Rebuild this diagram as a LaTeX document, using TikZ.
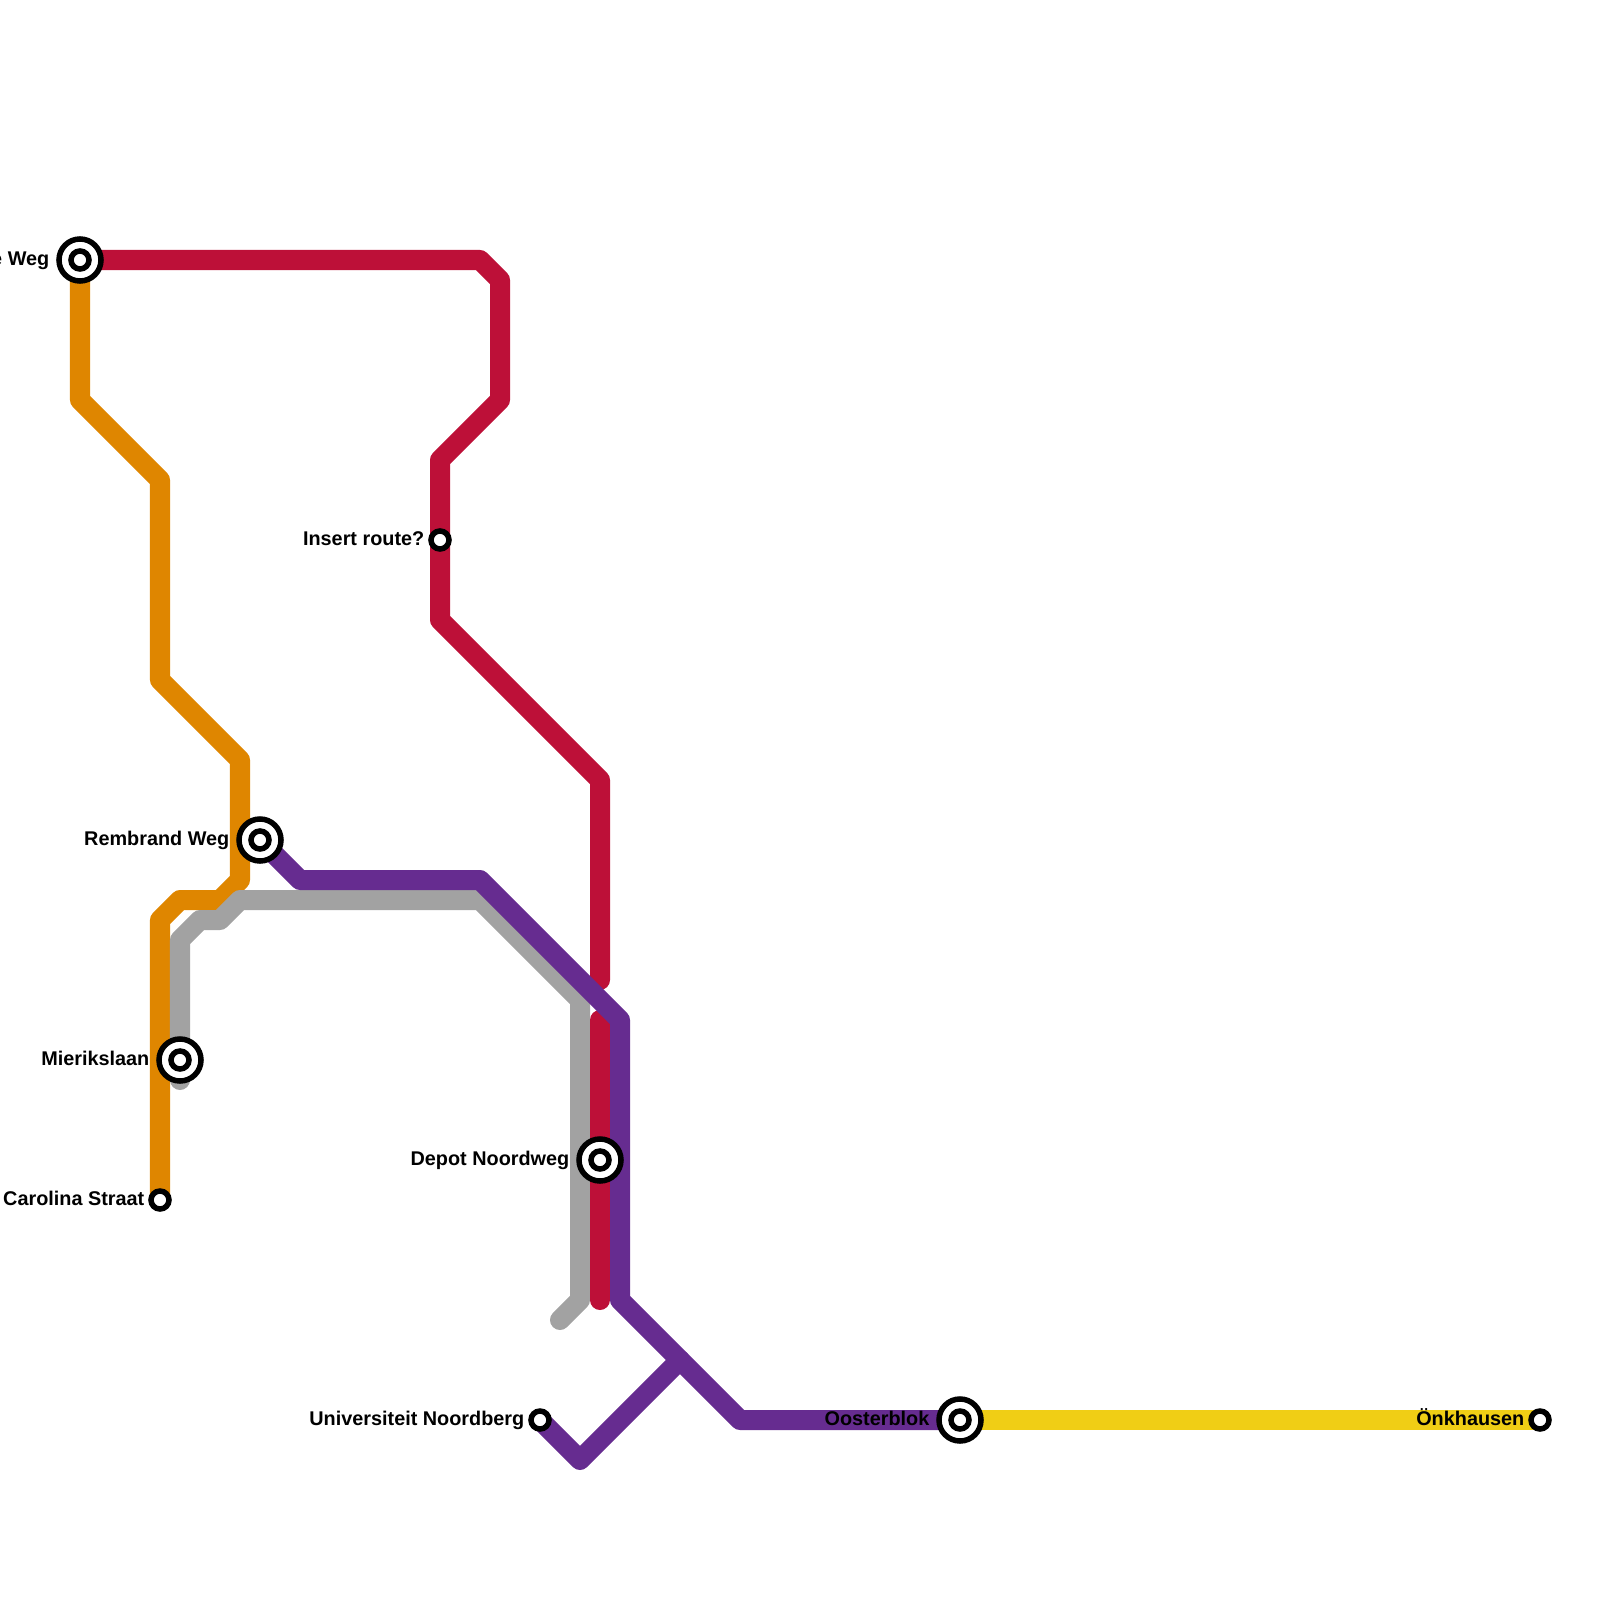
\documentclass[tikz,border=0pt]{standalone}
\usepackage{xcolor}
\usepackage{fontspec}
\setmainfont{Liberation Sans}
\usepackage{tikz}
\usetikzlibrary{positioning}
\definecolor{linered}{HTML}{BD1038}
\definecolor{lineorange}{HTML}{DF8600}
\definecolor{linepurple}{HTML}{662C90}
\definecolor{linegray}{HTML}{A2A2A2}
\definecolor{lineyellow}{HTML}{F0CE15}

\begin{document}
\begin{tikzpicture}[
  x=0.01cm, y=-0.01cm,
  font=\fontsize{5.64pt}{7pt}\selectfont\bfseries,
  metro/.style={line width=2mm, line cap=round, line join=round},
  stop/.style={circle, draw=black, fill=white, line width=0.55mm, minimum size=1.8mm, inner sep=0pt},
  bigstop/.style={stop, minimum size=4.2mm},
  stoplabel/.style={anchor=base east, inner sep=0pt, text=black}
]
\useasboundingbox (0,0) rectangle (1600,1600);

\coordinate (weg) at (80,260);
\coordinate (rembrand) at (260,840);
\coordinate (mieriks) at (180,1060);
\coordinate (carolina) at (160,1200);
\coordinate (insert) at (440,540);
\coordinate (depot) at (600,1160);
\coordinate (univ) at (540,1420);
\coordinate (ooster) at (960,1420);
\coordinate (onk) at (1540,1420);
\coordinate (redbreaktop) at (600,980);
\coordinate (redbreakbot) at (600,1020);
\coordinate (redend) at (600,1300);
\coordinate (grayend) at (560,1320);
\coordinate (grayfoot) at (180,1080);
\coordinate (branch) at (680,1360);

\draw[metro, lineyellow] (ooster) -- (onk);
\draw[metro, lineorange] (weg) -- (80,400) -- (160,480) -- (160,680) -- (240,760) -- (240,880) -- (220,900) -- (180,900) -- (160,920) -- (carolina);
\draw[metro, linegray] (grayfoot) -- (180,940) -- (200,920) -- (220,920) -- (240,900) -- (480,900) -- (580,1000) -- (580,1300) -- (grayend);
\draw[metro, linered] (weg) -- (480,260) -- (500,280) -- (500,400) -- (440,460) -- (insert) -- (440,620) -- (600,780) -- (redbreaktop);
\draw[metro, linered] (redbreakbot) -- (depot) -- (redend);
\draw[metro, linepurple] (rembrand) -- (300,880) -- (480,880) -- (620,1020) -- (620,1300) -- (branch) -- (740,1420) -- (ooster);
\draw[metro, linepurple] (univ) -- (580,1460) -- (branch);

% stations
\node[bigstop] (wegring) at (weg) {};
\node[stop] (wegstop) at (weg) {};
\node[bigstop] (rembrandring) at (rembrand) {};
\node[stop] (rembrandstop) at (rembrand) {};
\node[bigstop] (mieriksring) at (mieriks) {};
\node[stop] (mieriksstop) at (mieriks) {};
\node[bigstop] (depotring) at (depot) {};
\node[stop] (depotstop) at (depot) {};
\node[bigstop] (oosterring) at (ooster) {};
\node[stop] (oosterstop) at (ooster) {};
\node[stop] (carolinastop) at (carolina) {};
\node[stop] (insertstop) at (insert) {};
\node[stop] (univstop) at (univ) {};
\node[stop] (onkstop) at (onk) {};

% labels
\node[stoplabel] (weglabel) at (50,265) {e Weg};
\node[stoplabel] (rembrandlabel) at (230,845) {Rembrand Weg};
\node[stoplabel] (mierikslabel) at (150,1065) {Mierikslaan};
\node[stoplabel] (carolinalabel) at (145,1205) {Carolina Straat};
\node[stoplabel] (insertlabel) at (425,545) {Insert route?};
\node[stoplabel] (depotlabel) at (570,1165) {Depot Noordweg};
\node[stoplabel] (univlabel) at (525,1425) {Universiteit Noordberg};
\node[stoplabel] (oosterlabel) at (930,1425) {Oosterblok};
\node[stoplabel] (onklabel) at (1525,1425) {Önkhausen};
\end{tikzpicture}
\end{document}
